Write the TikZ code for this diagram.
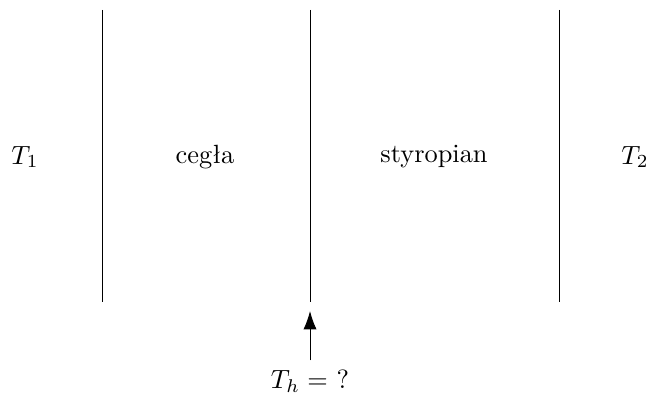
\documentclass[tikz,border=0pt]{standalone}
\usepackage{tikz}
\usetikzlibrary{arrows.meta}

\begin{document}
\begin{tikzpicture}[x=0.01333cm, y=-0.01333cm]

\useasboundingbox (0,0) rectangle (646,394);

% Walls
\foreach \name/\x in {wa/102, wb/310, wc/559}{
  \coordinate (\name top) at (\x,10);
  \coordinate (\name bot) at (\x,302);
  \draw[line width=0.35pt] (\name top) -- (\name bot);
}

% Labels
\node (t1) at (25,157) {$T_1$};
\node (cegla) at (205,157) {cegła};
\node (styro) at (434,157) {styropian};
\node (t2) at (635,157) {$T_2$};

% Unknown temperature
\node (th) at (310,381) {$T_h =$ ?};
\coordinate (tip) at (310,311);
\draw[line width=0.35pt, -{Latex[length=7pt,width=5pt]}] (th.north) -- (tip);

\end{tikzpicture}
\end{document}
